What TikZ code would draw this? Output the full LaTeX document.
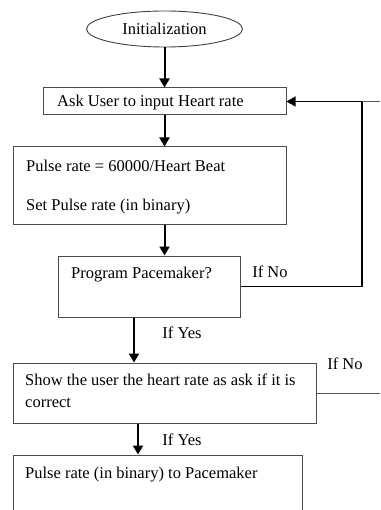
\documentclass[tikz,border=0pt]{standalone}
\usepackage{fontspec}
\setmainfont{Liberation Serif}
\usetikzlibrary{arrows.meta,shapes.geometric}
\tikzset{
  stepbox/.style={draw=black!70, line width=1pt, rectangle, inner sep=0pt},
  startnode/.style={draw=black!75, line width=0.9pt, ellipse, inner sep=0pt,
    minimum width=156pt, minimum height=36pt},
  txt/.style={inner sep=0pt, anchor=west, text height=11pt, text depth=4pt},
  lbl/.style={inner sep=0pt, text height=11pt, text depth=4pt},
  flow/.style={line width=2pt, -{Triangle[length=9pt,width=10pt]}},
  loopline/.style={line width=1.1pt, black},
  thinline/.style={line width=0.9pt, black!65},
}
\begin{document}
\begin{tikzpicture}[x=1pt, y=-1pt, font=\fontsize{16.5}{19}\selectfont]
  \useasboundingbox (0,0) rectangle (380,510);
  \clip (0,0) rectangle (380,510);

  % process boxes
  \node[startnode] (init) at (164.5,29) {Initialization};
  \node[stepbox, minimum width=243pt, minimum height=27pt] (ask) at (164.5,101.5) {};
  \node[stepbox, minimum width=273pt, minimum height=78pt] (pulse) at (149.5,186) {};
  \node[stepbox, minimum width=182pt, minimum height=61pt] (prog) at (149,286.5) {};
  \node[stepbox, minimum width=303pt, minimum height=60pt] (show) at (164.5,393) {};
  \node[stepbox, minimum width=289pt, minimum height=70pt] (send) at (157.5,490) {};

  % box texts
  \node[txt] (askT) at (57,103) {Ask User to input Heart rate};
  \node[txt] (pulseT1) at (26,168) {Pulse rate = 60000/Heart Beat};
  \node[txt] (pulseT2) at (26,207) {Set Pulse rate (in binary)};
  \node[txt] (progT) at (71,275) {Program Pacemaker?};
  \node[txt] (showT1) at (25,382) {Show the user the heart rate as ask if it is};
  \node[txt] (showT2) at (25,404) {correct};
  \node[txt] (sendT) at (25,475) {Pulse rate (in binary) to Pacemaker};

  % branch labels
  \node[lbl] (no1) at (270,274) {If No};
  \node[lbl] (yes1) at (182,335) {If Yes};
  \node[lbl] (no2) at (345,366) {If No};
  \node[lbl] (yes2) at (182,442) {If Yes};

  % helper points
  \coordinate (loopc) at (362,101.5);
  \coordinate (edgeA) at (380,101.5);
  \coordinate (edgeB) at (380,393);
  \coordinate (dA) at ([xshift=-15pt]prog.south);
  \coordinate (dB) at ([xshift=-26.5pt]show.south);

  % main flow
  \draw[flow] (init) -- (ask);
  \draw[flow] (ask.south) -- (ask.south |- pulse.north);
  \draw[flow] (ask.south |- pulse.south) -- (ask.south |- prog.north);
  \draw[flow] (dA) -- (dA |- show.north);
  \draw[flow] (dB) -- (dB |- send.north);

  % "If No" return paths
  \draw[loopline] (prog.east) -| (loopc);
  \draw[loopline, -{Triangle[length=9pt,width=10pt]}] (loopc) -- (ask.east);
  \draw[thinline] (loopc) -- (edgeA);
  \draw[thinline] (show.east) -- (edgeB);
\end{tikzpicture}
\end{document}
